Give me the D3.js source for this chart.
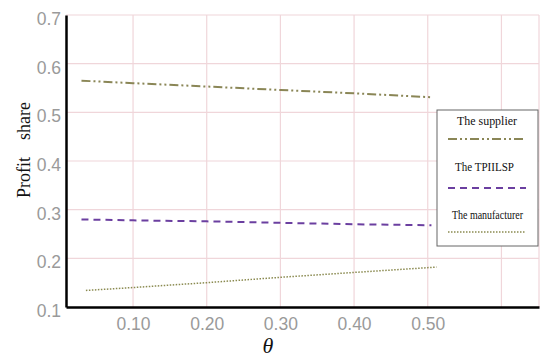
<!DOCTYPE html>
<html>
<head>
<meta charset="utf-8">
<script src="https://cdn.jsdelivr.net/npm/d3@7"></script>
<style>
  body { margin: 0; background: #fff; }
  #chart svg { display: block; }
</style>
</head>
<body>
<div id="chart"></div>
<script>
// values
const thetaTicks = [0.1, 0.2, 0.3, 0.4, 0.5];
const gridX = [0.1, 0.2, 0.3, 0.4, 0.5, 0.6];
const yTicks = [0.1, 0.2, 0.3, 0.4, 0.5, 0.6, 0.7];

const supplierTheta = [0.03, 0.1, 0.2, 0.3, 0.4, 0.505];
const supplierShare = [0.565, 0.560, 0.553, 0.546, 0.539, 0.531];

const tpiilspTheta = [0.03, 0.1, 0.2, 0.3, 0.4, 0.505];
const tpiilspShare = [0.280, 0.278, 0.276, 0.273, 0.270, 0.268];

const manufacturerTheta = [0.036, 0.1, 0.2, 0.3, 0.4, 0.512];
const manufacturerShare = [0.134, 0.140, 0.150, 0.161, 0.171, 0.182];

const series = [
  { name: "The supplier", theta: supplierTheta, share: supplierShare, color: "#8a8656", width: 2, dash: "9,3,2,3,2,3" },
  { name: "The TPIILSP", theta: tpiilspTheta, share: tpiilspShare, color: "#6b3fa0", width: 2, dash: "7,5" },
  { name: "The manufacturer", theta: manufacturerTheta, share: manufacturerShare, color: "#8a8a50", width: 1.5, dash: "1.5,1.5" }
];

const W = 550, H = 361;
const margin = { top: 15, right: 11, bottom: 54, left: 66 };

const svg = d3.select("#chart").append("svg").attr("width", W).attr("height", H);

const x = d3.scaleLinear().domain([0.009, 0.651]).range([margin.left, W - margin.right]);
const y = d3.scaleLinear().domain([0.1, 0.7]).range([H - margin.bottom, margin.top]);

// grid
const grid = svg.append("g").attr("stroke", "#f0d6da").attr("stroke-width", 1.2);
grid.selectAll(".gx").data(gridX).enter().append("line")
  .attr("x1", d => x(d)).attr("x2", d => x(d))
  .attr("y1", y(0.7)).attr("y2", y(0.1));
grid.append("line").attr("x1", x.range()[1]).attr("x2", x.range()[1]).attr("y1", y(0.7)).attr("y2", y(0.1));
grid.selectAll(".gy").data(yTicks.slice(1)).enter().append("line")
  .attr("x1", margin.left).attr("x2", x.range()[1])
  .attr("y1", d => y(d)).attr("y2", d => y(d));

// axes
const yAxis = svg.append("g").attr("transform", `translate(${margin.left},0)`)
  .call(d3.axisLeft(y).tickValues(yTicks).tickFormat(d3.format(".1f")).tickSize(0).tickPadding(5));
const xAxis = svg.append("g").attr("transform", `translate(0,${y(0.1)})`)
  .call(d3.axisBottom(x).tickValues(thetaTicks).tickFormat(d3.format(".2f")).tickSize(0).tickPadding(11));

[xAxis, yAxis].forEach(a => {
  a.select(".domain").attr("stroke", "#000").attr("stroke-width", 2.5);
  a.selectAll("text").attr("fill", "#9a9a9a").attr("font-family", "Liberation Sans, Arial, sans-serif").attr("font-size", 17.5);
});
yAxis.selectAll("text").attr("dy", "0.55em");

// lines
const line = d3.line().x(d => x(d[0])).y(d => y(d[1]));
series.forEach(s => {
  svg.append("path")
    .datum(s.theta.map((t, i) => [t, s.share[i]]))
    .attr("fill", "none")
    .attr("stroke", s.color)
    .attr("stroke-width", s.width)
    .attr("stroke-dasharray", s.dash)
    .attr("d", line);
});

// legend
const lg = svg.append("g").attr("transform", "translate(437,110)");
lg.append("rect").attr("width", 101).attr("height", 136).attr("fill", "#fff").attr("stroke", "#666").attr("stroke-width", 1);
const rows = [
  { textY: 15, lineY: 29, tx: 20, len: 60 },
  { textY: 61, lineY: 78, tx: 18, len: 59 },
  { textY: 109, lineY: 122, tx: 15, len: 71 }
];
series.forEach((s, i) => {
  const r = rows[i];
  lg.append("text").attr("x", r.tx).attr("y", r.textY)
    .attr("font-family", "Liberation Serif, Times New Roman, serif").attr("font-size", 11.5)
    .attr("textLength", r.len).attr("lengthAdjust", "spacingAndGlyphs")
    .attr("fill", "#111").text(s.name);
  lg.append("line").attr("x1", 11).attr("x2", 89).attr("y1", r.lineY).attr("y2", r.lineY)
    .attr("stroke", s.color).attr("stroke-width", s.width).attr("stroke-dasharray", s.dash);
});

// titles
const yTitle = svg.append("text")
  .attr("transform", "translate(30,149) rotate(-90)")
  .attr("font-family", "Liberation Serif, Times New Roman, serif").attr("font-size", 18)
  .attr("fill", "#111");
yTitle.append("tspan").attr("x", -49).text("Profit");
yTitle.append("tspan").attr("x", 9).text("share");

svg.append("text")
  .attr("x", 268).attr("y", 353)
  .attr("text-anchor", "middle")
  .attr("font-family", "Liberation Serif, Times New Roman, serif").attr("font-size", 22)
  .attr("font-style", "italic").attr("fill", "#111")
  .text("θ");
</script>
</body>
</html>
